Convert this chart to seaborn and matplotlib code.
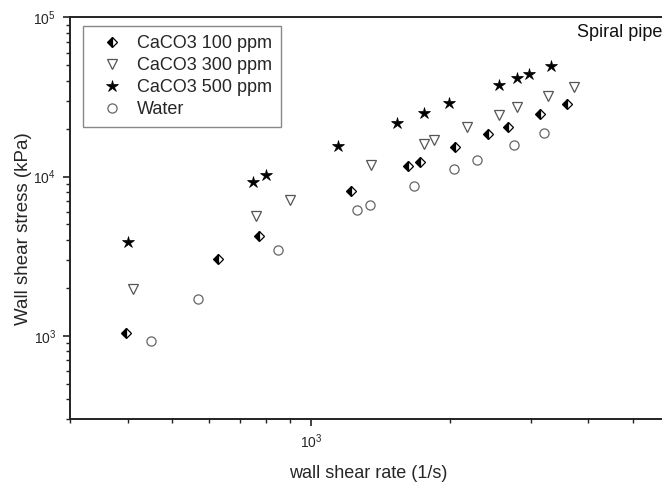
import matplotlib
matplotlib.use("Agg")
import matplotlib.pyplot as plt
import matplotlib.ticker as mticker
import seaborn as sns

# wall shear rate (1/s) and wall shear stress (kPa)
rate_100 = [396, 630, 771, 1221, 1628, 1726, 2056, 2425, 2675, 3144, 3592]
stress_100 = [1040, 3050, 4240, 8110, 11640, 12380, 15240, 18390, 20520, 24550, 28480]

rate_300 = [412, 760, 902, 1350, 1761, 1854, 2180, 2553, 2806, 3277, 3731]
stress_300 = [1960, 5650, 7120, 11810, 15990, 16930, 20520, 24300, 27160, 31970, 36560]

rate_500 = [400, 748, 800, 1142, 1537, 1755, 1998, 2557, 2806, 2976, 3316]
stress_500 = [3880, 9280, 10180, 15600, 21560, 24900, 28770, 37470, 41280, 43920, 49780]

rate_water = [450, 569, 848, 1258, 1345, 1670, 2039, 2292, 2761, 3212]
stress_water = [926, 1690, 3460, 6170, 6660, 8760, 11100, 12740, 15760, 18660]

labels = ["CaCO3 100 ppm", "CaCO3 300 ppm", "CaCO3 500 ppm", "Water"]

sns.set_style("white")
plt.rcParams["font.family"] = ["Liberation Sans", "DejaVu Sans"]
plt.rcParams["mathtext.default"] = "regular"

fig = plt.figure(figsize=(6.62, 4.84), dpi=100)
ax = fig.add_axes([0.1057, 0.1343, 0.9057, 0.830])

common = dict(linestyle="", sort=False, errorbar=None, estimator=None, ax=ax)
sns.lineplot(x=rate_100, y=stress_100, marker="D", ms=5.6, fillstyle="left",
             markerfacecolor="black", markerfacecoloralt="white",
             markeredgecolor="black", markeredgewidth=0.9, color="black",
             label=labels[0], **common)
sns.lineplot(x=rate_300, y=stress_300, marker="v", ms=7.8,
             markerfacecolor="white", markeredgecolor="#555555",
             markeredgewidth=0.9, color="#555555", label=labels[1], **common)
sns.lineplot(x=rate_500, y=stress_500, marker="*", ms=9,
             markerfacecolor="black", markeredgecolor="black",
             markeredgewidth=0.5, color="black", label=labels[2], **common)
sns.lineplot(x=rate_water, y=stress_water, marker="o", ms=6.6,
             markerfacecolor="white", markeredgecolor="#666666",
             markeredgewidth=0.9, color="#666666", label=labels[3], **common)

ax.set_xscale("log")
ax.set_yscale("log")
ax.set_xlim(300, 6000)
ax.set_ylim(300, 1e5)

for s in ax.spines.values():
    s.set_color("#222222")
    s.set_linewidth(1.4)

ax.xaxis.set_minor_locator(mticker.LogLocator(base=10, subs=range(2, 10), numticks=20))
ax.yaxis.set_minor_locator(mticker.LogLocator(base=10, subs=range(2, 10), numticks=20))
ax.xaxis.set_minor_formatter(mticker.NullFormatter())
ax.yaxis.set_minor_formatter(mticker.NullFormatter())
ax.tick_params(which="major", direction="out", length=5, width=1.2, labelsize=10,
               color="#222222", pad=5)
ax.tick_params(which="minor", direction="out", length=3, width=1.0, color="#222222")
ax.tick_params(top=False, right=False, which="both")
ax.tick_params(axis="both", which="both", bottom=True, left=True)

ax.set_xlabel("wall shear rate (1/s)", fontsize=13)
ax.set_ylabel("Wall shear stress (kPa)", fontsize=13.5)
ax.xaxis.set_label_coords(0.497, -0.115)
ax.yaxis.set_label_coords(-0.064, 0.473)

ax.text(0.8456, 0.963, "Spiral pipe", transform=ax.transAxes, fontsize=13,
        ha="left", va="center", color="#111111")

leg = ax.legend(loc="upper left", bbox_to_anchor=(0.021, 0.978), fontsize=13,
                frameon=True, fancybox=False, framealpha=1, edgecolor="#888888",
                labelspacing=0.28, handlelength=2.3, handletextpad=0.2,
                borderpad=0.5, borderaxespad=0)
leg.get_frame().set_linewidth(1.0)

fig.savefig("out.png", dpi=100)
